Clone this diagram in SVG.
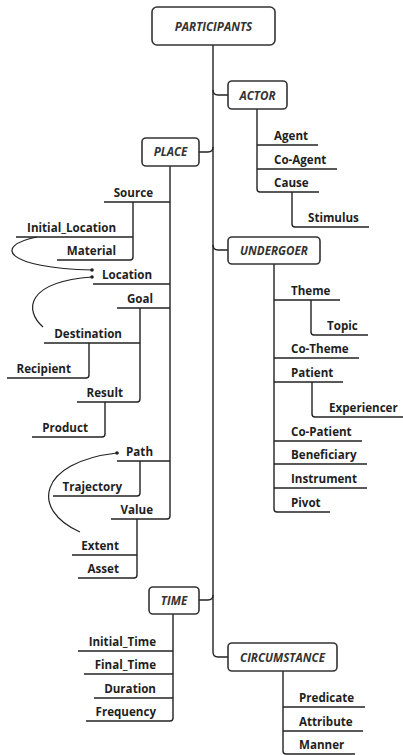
<svg xmlns="http://www.w3.org/2000/svg" width="403" height="755" viewBox="0 0 403 755">
<style>
.bg{fill:#fff}
.box{fill:#fff;stroke:#333;stroke-width:1.6}
.bt{font-family:"Open Sans","DejaVu Sans",sans-serif;font-weight:700;font-style:italic;font-size:11.6px;fill:#333;text-anchor:middle}
.lt{font-family:"Open Sans","DejaVu Sans",sans-serif;font-weight:700;font-size:11.6px;fill:#1e1e1e}
.r{text-anchor:end}
.ln{fill:none;stroke:#222;stroke-width:1.4}
.cv{fill:none;stroke:#222;stroke-width:1.2}
.dot{fill:#222}
</style>
<rect class="bg" x="0" y="0" width="403" height="755"/>
<g id="connectors">
<path class="ln" d="M213,45 V652 Q213,657 218,657 H228"/>
<path class="ln" d="M213,90 Q213,95 218,95 H228"/>
<path class="ln" d="M199,152 H208 Q213,152 213,147"/>
<path class="ln" d="M213,245 Q213,250 218,250 H228"/>
<path class="ln" d="M199,600 H208 Q213,600 213,595"/>
<path class="ln" d="M257,109 V189 Q257,192 260,192"/>
<path class="ln" d="M292,192 V224 Q292,227 295,227"/>
<path class="ln" d="M274,264 V509 Q274,512 277,512"/>
<path class="ln" d="M311,300 V332 Q311,335 314,335"/>
<path class="ln" d="M312,382 V414 Q312,417 315,417"/>
<path class="ln" d="M170,166 V516 Q170,519 167,519"/>
<path class="ln" d="M133,202 V257 Q133,260 130,260"/>
<path class="ln" d="M140,308 V399 Q140,402 137,402"/>
<path class="ln" d="M89,343 V375 Q89,378 86,378"/>
<path class="ln" d="M105,402 V434 Q105,437 102,437"/>
<path class="ln" d="M140,461 V493 Q140,496 137,496"/>
<path class="ln" d="M137,519 V575 Q137,578 134,578"/>
<path class="ln" d="M173,614 V718 Q173,721 170,721"/>
<path class="ln" d="M283,671 V751 Q283,754 286,754"/>
<path class="cv" d="M37,237 C-8,246 6,268 92,270"/>
<path class="cv" d="M43,327 C24,310 26,282 92,277"/>
<path class="cv" d="M80,532 C30,510 38,462 117,453"/>
<circle class="dot" cx="92" cy="270" r="1.8"/>
<circle class="dot" cx="92" cy="277" r="1.8"/>
<circle class="dot" cx="117" cy="453" r="1.8"/>
</g>
<g id="participants"><rect class="box" x="152" y="7" width="123" height="38" rx="5"/><text class="bt" x="213.5" y="31">PARTICIPANTS</text></g>
<g id="actor"><rect class="box" x="228" y="81" width="59" height="28" rx="4"/><text class="bt" x="257.5" y="100">ACTOR</text></g>
<g id="place"><rect class="box" x="142" y="138" width="57" height="28" rx="4"/><text class="bt" x="170.5" y="156">PLACE</text></g>
<g id="undergoer"><rect class="box" x="228" y="237" width="92" height="27" rx="4"/><text class="bt" x="274" y="254.5">UNDERGOER</text></g>
<g id="time"><rect class="box" x="149" y="587" width="50" height="27" rx="4"/><text class="bt" x="174" y="605">TIME</text></g>
<g id="circumstance"><rect class="box" x="228" y="643" width="109" height="28" rx="4"/><text class="bt" x="282.5" y="661.5">CIRCUMSTANCE</text></g>
<g id="agent"><text class="lt" x="274" y="140">Agent</text><path class="ln" d="M257,145 H318"/></g>
<g id="co-agent"><text class="lt" x="274" y="164">Co-Agent</text><path class="ln" d="M257,169 H337"/></g>
<g id="cause"><text class="lt" x="274" y="187">Cause</text><path class="ln" d="M260,192 H319"/></g>
<g id="stimulus"><text class="lt" x="308" y="222">Stimulus</text><path class="ln" d="M295,227 H369"/></g>
<g id="theme"><text class="lt" x="291" y="295">Theme</text><path class="ln" d="M274,300 H340"/></g>
<g id="topic"><text class="lt" x="327" y="330">Topic</text><path class="ln" d="M314,335 H368"/></g>
<g id="co-theme"><text class="lt" x="291" y="353">Co-Theme</text><path class="ln" d="M274,358 H359"/></g>
<g id="patient"><text class="lt" x="291" y="377">Patient</text><path class="ln" d="M274,382 H343"/></g>
<g id="experiencer"><text class="lt" x="329" y="412">Experiencer</text><path class="ln" d="M315,417 H403"/></g>
<g id="co-patient"><text class="lt" x="291" y="436">Co-Patient</text><path class="ln" d="M274,441 H362"/></g>
<g id="beneficiary"><text class="lt" x="291" y="459">Beneficiary</text><path class="ln" d="M274,464 H367"/></g>
<g id="instrument"><text class="lt" x="291" y="483">Instrument</text><path class="ln" d="M274,488 H367"/></g>
<g id="pivot"><text class="lt" x="291" y="507">Pivot</text><path class="ln" d="M277,512 H330"/></g>
<g id="source"><text class="lt r" x="153" y="197">Source</text><path class="ln" d="M104,202 H170"/></g>
<g id="initial_location"><text class="lt r" x="116" y="232">Initial_Location</text><path class="ln" d="M16,237 H133"/></g>
<g id="material"><text class="lt r" x="116" y="255">Material</text><path class="ln" d="M57,260 H130"/></g>
<g id="location"><text class="lt r" x="152" y="279">Location</text><path class="ln" d="M93,284 H170"/></g>
<g id="goal"><text class="lt r" x="153" y="303">Goal</text><path class="ln" d="M117,308 H170"/></g>
<g id="destination"><text class="lt r" x="122" y="338">Destination</text><path class="ln" d="M44,343 H140"/></g>
<g id="recipient"><text class="lt r" x="71" y="373">Recipient</text><path class="ln" d="M7,378 H86"/></g>
<g id="result"><text class="lt r" x="123" y="397">Result</text><path class="ln" d="M77,402 H137"/></g>
<g id="product"><text class="lt r" x="88" y="432">Product</text><path class="ln" d="M32,437 H102"/></g>
<g id="path"><text class="lt r" x="153" y="456">Path</text><path class="ln" d="M117,461 H170"/></g>
<g id="trajectory"><text class="lt r" x="122" y="491">Trajectory</text><path class="ln" d="M53,496 H137"/></g>
<g id="value"><text class="lt r" x="153" y="514">Value</text><path class="ln" d="M111,519 H167"/></g>
<g id="extent"><text class="lt r" x="119" y="550">Extent</text><path class="ln" d="M72,555 H137"/></g>
<g id="asset"><text class="lt r" x="119" y="573">Asset</text><path class="ln" d="M78,578 H134"/></g>
<g id="initial_time"><text class="lt r" x="156" y="646">Initial_Time</text><path class="ln" d="M78,651 H173"/></g>
<g id="final_time"><text class="lt r" x="156" y="669">Final_Time</text><path class="ln" d="M84,674 H173"/></g>
<g id="duration"><text class="lt r" x="156" y="693">Duration</text><path class="ln" d="M94,698 H173"/></g>
<g id="frequency"><text class="lt r" x="156" y="716">Frequency</text><path class="ln" d="M86,721 H170"/></g>
<g id="predicate"><text class="lt" x="299" y="702">Predicate</text><path class="ln" d="M283,707 H365"/></g>
<g id="attribute"><text class="lt" x="299" y="726">Attribute</text><path class="ln" d="M283,731 H363"/></g>
<g id="manner"><text class="lt" x="299" y="749">Manner</text><path class="ln" d="M286,754 H355"/></g>
</svg>
